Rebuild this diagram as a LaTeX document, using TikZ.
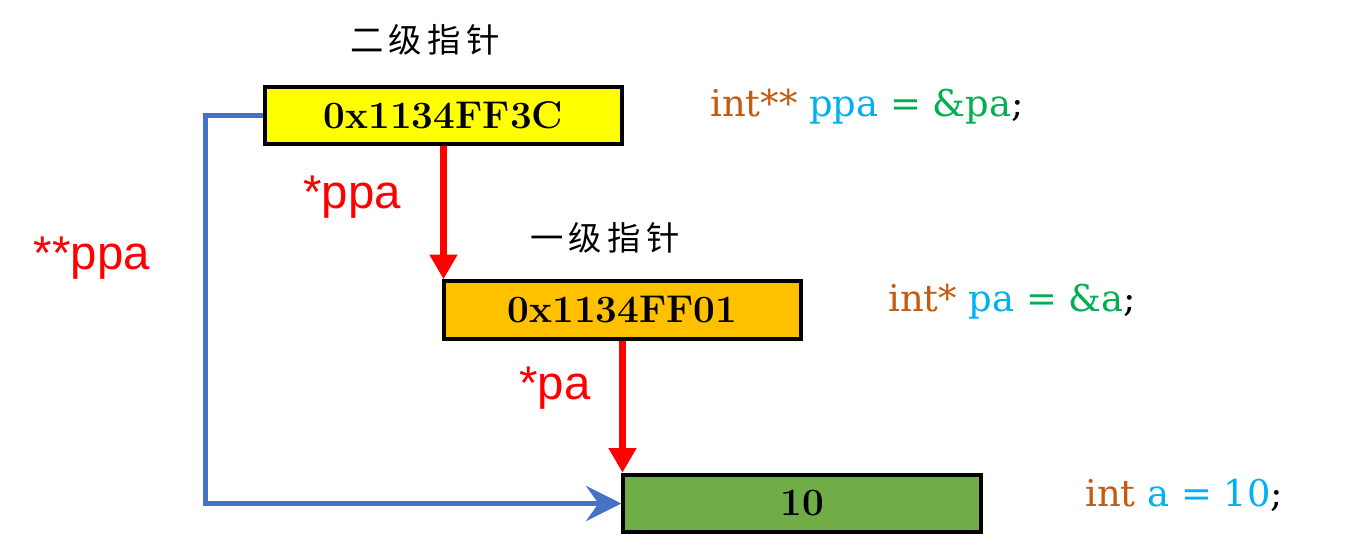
\documentclass[tikz,border=0pt]{standalone}
\usepackage{fontspec}
\newfontfamily\codefont{DejaVu Serif}
\newfontfamily\cjk{Noto Sans CJK SC}
\newfontfamily\arial{Liberation Sans}
\usetikzlibrary{arrows.meta}
\definecolor{cellyellow}{HTML}{FFFF00}
\definecolor{cellorange}{HTML}{FFC000}
\definecolor{cellgreen}{HTML}{70AD47}
\definecolor{linkblue}{HTML}{4472C4}
\definecolor{typebrown}{HTML}{C55A11}
\definecolor{varcyan}{HTML}{00B0F0}
\definecolor{addrgreen}{HTML}{00B050}
\tikzset{
	cell/.style={draw=black,line width=2.3pt,minimum width=7.15cm,minimum height=1.15cm,font=\fontsize{22}{25}\selectfont\bfseries},
	deref/.style={red,line width=4.5pt,-{Triangle[width=15pt,length=14pt]}},
	link/.style={linkblue,line width=2.8pt,-{Stealth[width=20pt,length=20pt,inset=7pt]}},
	tag/.style={red,font=\arial\fontsize{27}{30}\selectfont},
	level/.style={font=\cjk\fontsize{19}{22}\selectfont},
	code/.style={anchor=west,font=\codefont\fontsize{21}{24}\selectfont}
}
\begin{document}
\begin{tikzpicture}[x=0.02cm,y=-0.02cm]
	\useasboundingbox (0,0) rectangle (1369,552);
	\node[cell,fill=cellyellow] (ppa) at (443.5,115.5) {0x1134FF3C};
	\node[cell,fill=cellorange] (pa) at (622.5,310) {0x1134FF01};
	\node[cell,fill=cellgreen] (a) at (802,503.5) {10};
	\node[level] (lvltwo) at (425,40) {二\hspace{3pt}级\hspace{3pt}指\hspace{3pt}针};
	\node[level] (lvlone) at (605,238) {一\hspace{3pt}级\hspace{3pt}指\hspace{3pt}针};
	\draw[deref] (ppa.south) -- (ppa.south |- pa.north);
	\draw[deref] (pa.south) -- (pa.south |- a.north);
	\draw[link] (ppa.west) -- ++(-57,0) |- (a.west);
	\node[tag] (starppa) at (352,197) {*ppa};
	\node[tag] (dstarppa) at (92,258) {**ppa};
	\node[tag] (starpa) at (555,388) {*pa};
	\node[code] (declppa) at (704,107) {\textcolor{typebrown}{int**} \textcolor{varcyan}{ppa} \textcolor{addrgreen}{= \&pa};};
	\node[code] (declpa) at (882,302) {\textcolor{typebrown}{int*} \textcolor{varcyan}{pa} \textcolor{addrgreen}{= \&a};};
	\node[code] (decla) at (1079,495) {\textcolor{typebrown}{int} \textcolor{varcyan}{a = 10};};
\end{tikzpicture}
\end{document}
